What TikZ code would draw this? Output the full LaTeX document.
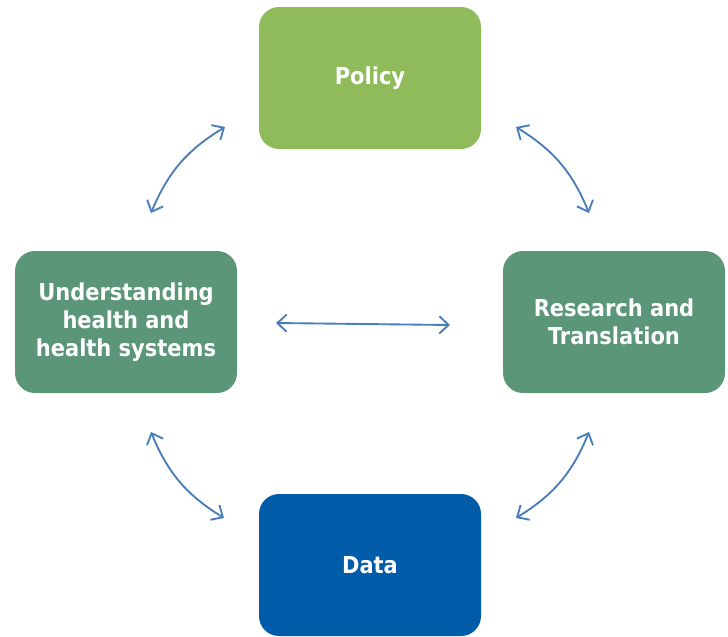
\documentclass[tikz,border=0pt]{standalone}
\usepackage{fontspec}
\setmainfont{DejaVu Sans Condensed}
\usetikzlibrary{arrows.meta}
\definecolor{policygreen}{RGB}{143,187,90}
\definecolor{boxgreen}{RGB}{91,150,120}
\definecolor{datablue}{RGB}{0,91,168}
\definecolor{arrowblue}{RGB}{74,126,187}
\tikzset{
  box/.style={rounded corners=15pt, minimum width=166.5pt, minimum height=106.5pt,
    text=white, align=center, inner sep=0pt,
    font=\fontsize{17.5}{21}\selectfont\bfseries},
  link/.style={<->, >={Straight Barb[length=7pt,width=13pt]}, color=arrowblue, line width=1.4pt}
}
\begin{document}
\begin{tikzpicture}[x=0.75pt,y=0.75pt,yscale=-1,xscale=1]
\useasboundingbox (0,0) rectangle (728,636);

%Boxes
\node [box, fill=policygreen] (policy) at (370,78) {Policy};
\node [box, fill=boxgreen] (understanding) at (126,322) {Understanding\\health and\\health systems};
\node [box, fill=boxgreen] (research) at (614,322) {Research and\\Translation};
\node [box, fill=datablue] (data) at (370,565) {Data};

%Arrow ends
\coordinate (tl1) at (225,127);
\coordinate (tl2) at (151,213);
\coordinate (bl1) at (151,432);
\coordinate (bl2) at (224,518);
\coordinate (br1) at (516,518);
\coordinate (br2) at (589,432);
\coordinate (tr1) at (589,213);
\coordinate (tr2) at (516,127);
\coordinate (h1) at (276,323);
\coordinate (h2) at (450,325);

%Arrows
\draw [link] (tl1) to[bend left=18] (tl2);
\draw [link] (bl1) to[bend left=18] (bl2);
\draw [link] (br1) to[bend left=18] (br2);
\draw [link] (tr1) to[bend left=18] (tr2);
\draw [link] (h1) -- (h2);
\end{tikzpicture}
\end{document}
